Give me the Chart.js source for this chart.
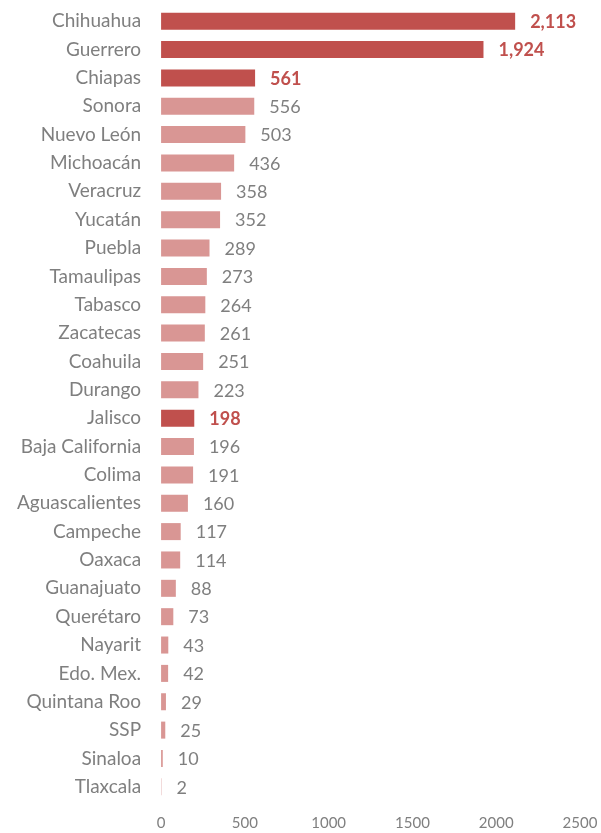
<!DOCTYPE html>
<html>
<head>
<meta charset="utf-8">
<script src="https://cdn.jsdelivr.net/npm/chart.js@4"></script>
<style>
  html, body { margin: 0; padding: 0; background: #fff; }
  #wrap { width: 601px; height: 833px; position: relative; }
</style>
</head>
<body>
<div id="wrap"><canvas id="bar"></canvas></div>
<script>
const states = ['Chihuahua', 'Guerrero', 'Chiapas', 'Sonora', 'Nuevo León', 'Michoacán', 'Veracruz',
    'Yucatán', 'Puebla', 'Tamaulipas', 'Tabasco', 'Zacatecas', 'Coahuila', 'Durango', 'Jalisco',
    'Baja California', 'Colima', 'Aguascalientes', 'Campeche', 'Oaxaca', 'Guanajuato', 'Querétaro',
    'Nayarit', 'Edo. Mex.', 'Quintana Roo', 'SSP', 'Sinaloa', 'Tlaxcala'];
const cases = [2113, 1924, 561, 556, 503, 436, 358, 352, 289, 273, 264, 261, 251, 223, 198,
    196, 191, 160, 117, 114, 88, 73, 43, 42, 29, 25, 10, 2];
const highlighted = ['Chihuahua', 'Guerrero', 'Chiapas', 'Jalisco'];
const xTicks = [0, 500, 1000, 1500, 2000, 2500];

const dark = '#C0504D';
const light = '#D99694';
const gray = '#7F7F7F';
const font = 'Lato';

// value labels at the end of each bar
const valueLabels = {
    id: 'valueLabels',
    afterDatasetsDraw(chart) {
        const ctx = chart.ctx;
        const meta = chart.getDatasetMeta(0);
        ctx.save();
        ctx.textBaseline = 'middle';
        ctx.textAlign = 'left';
        meta.data.forEach((bar, i) => {
            const hi = highlighted.includes(states[i]);
            ctx.font = (hi ? 'bold ' : '') + '18px ' + font;
            ctx.fillStyle = hi ? dark : gray;
            ctx.fillText(cases[i].toLocaleString('en-US'), bar.x + 15, bar.y + 1);
        });
        ctx.restore();
    }
};

// drop the extra label padding chart.js adds at the axis ends
const noEndPadding = (scale) => {
    scale.paddingTop = 0;
    scale.paddingBottom = 0;
    scale.paddingLeft = 0;
    scale.paddingRight = 0;
};

const Bar = document.getElementById('bar').getContext('2d');
const myBarChart = new Chart(Bar, {
    type: 'bar',
    data: {
        labels: states,
        datasets: [{
            data: cases,
            backgroundColor: states.map((s) => highlighted.includes(s) ? dark : light),
            borderWidth: 0,
            categoryPercentage: 0.6,
            barPercentage: 1,
        }],
    },
    options: {
        indexAxis: 'y',
        responsive: true,
        maintainAspectRatio: false,
        animation: false,
        layout: { padding: { top: 7, right: 21, left: 5, bottom: -4 } },
        plugins: {
            legend: { display: false },
            tooltip: { enabled: false },
        },
        scales: {
            x: {
                min: 0,
                max: 2500,
                afterBuildTicks: (axis) => { axis.ticks = xTicks.map((v) => ({ value: v })); },
                afterFit: noEndPadding,
                grid: { display: false },
                border: { display: false },
                ticks: {
                    color: gray, font: { family: font, size: 15 }, padding: 5, maxRotation: 0,
                    callback: (v) => String(v),
                },
            },
            y: {
                afterFit: noEndPadding,
                grid: { display: false },
                border: { display: false },
                ticks: { color: gray, font: { family: font, size: 19 }, padding: 12, autoSkip: false },
            },
        },
    },
    plugins: [valueLabels],
});
</script>
</body>
</html>
